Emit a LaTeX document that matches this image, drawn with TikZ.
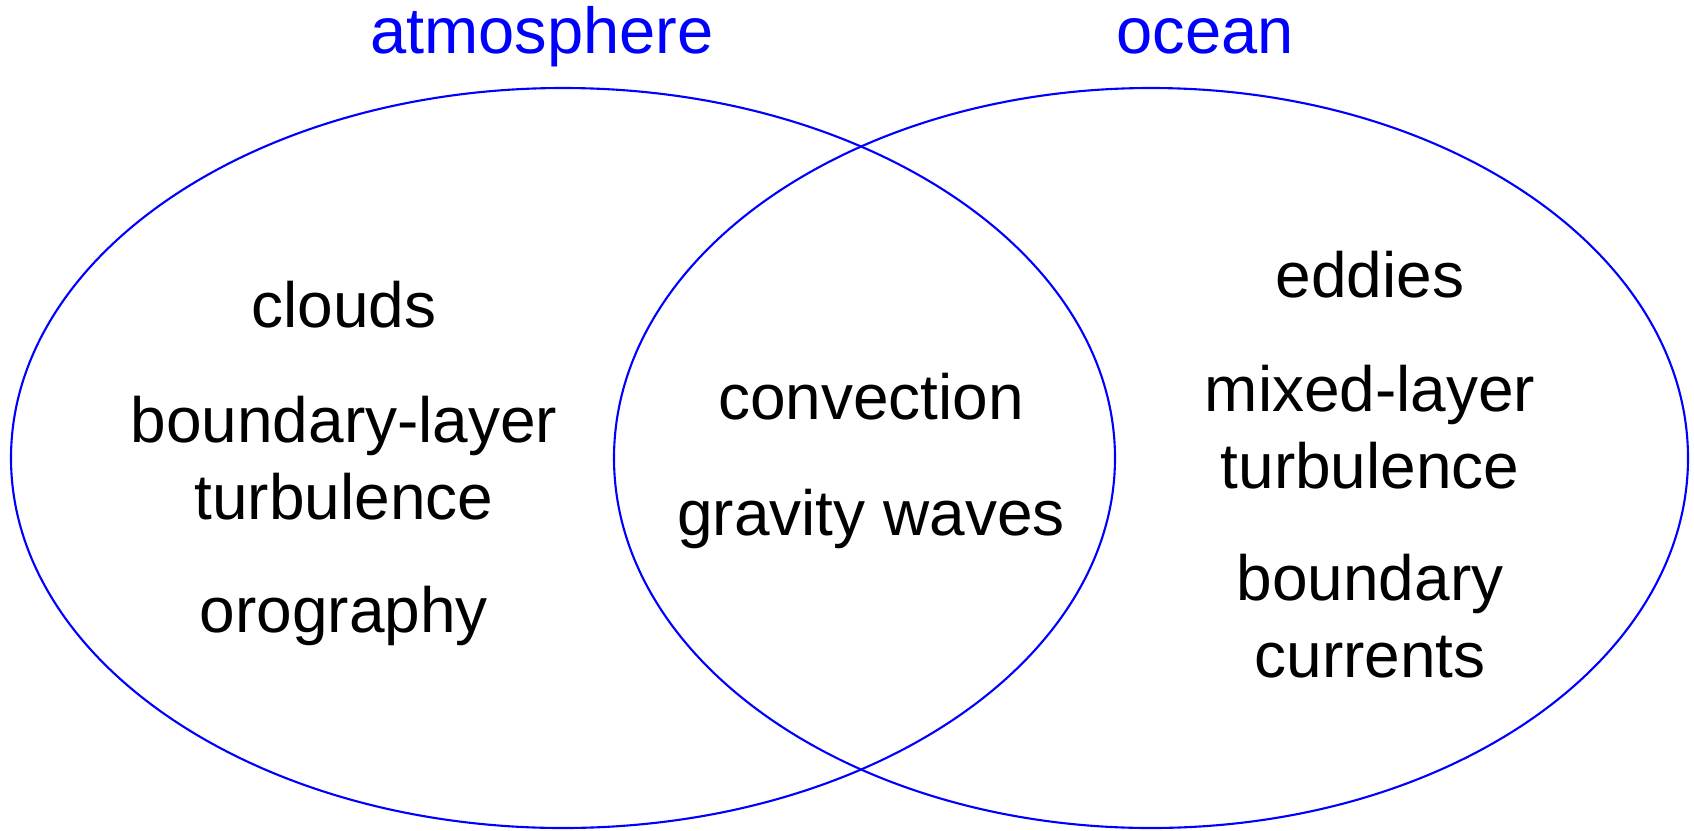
\documentclass[tikz,border=0pt]{standalone}
\usepackage{fontspec}
\setmainfont{Liberation Sans}
\usetikzlibrary{positioning}
\definecolor{setblue}{RGB}{0,0,255}

\begin{document}
\begin{tikzpicture}[
    every node/.style={font=\fontsize{18.2}{21.8}\selectfont, align=center, inner sep=0pt, anchor=base},
    setline/.style={draw=setblue, line width=0.6pt},
    settitle/.style={text=setblue, font=\fontsize{18.5}{21.8}\selectfont}]
        \useasboundingbox (0,0) rectangle (16.94,8.30);
        % the two sets
        \draw[setline] (5.63,3.72) ellipse [x radius=5.52cm, y radius=3.70cm];
        \draw[setline] (11.51,3.72) ellipse [x radius=5.37cm, y radius=3.70cm];
        \node[settitle] (atm) at (5.42,7.77) {atmosphere};
        \node[settitle] (oce) at (12.05,7.77) {ocean};
        % atmosphere only (base = last line)
        \node (clouds) at (3.44,5.03) {clouds};
        \node (blturb) at (3.44,3.11) {boundary-layer\\turbulence};
        \node (orog) at (3.44,1.98) {orography};
        % shared
        \node (conv) at (8.71,4.11) {convection};
        \node (gwaves) at (8.71,2.95) {gravity waves};
        % ocean only
        \node (eddies) at (13.70,5.33) {eddies};
        \node (mlturb) at (13.70,3.42) {mixed-layer\\turbulence};
        \node (bcurr) at (13.70,1.53) {boundary\\currents};
\end{tikzpicture}
\end{document}
